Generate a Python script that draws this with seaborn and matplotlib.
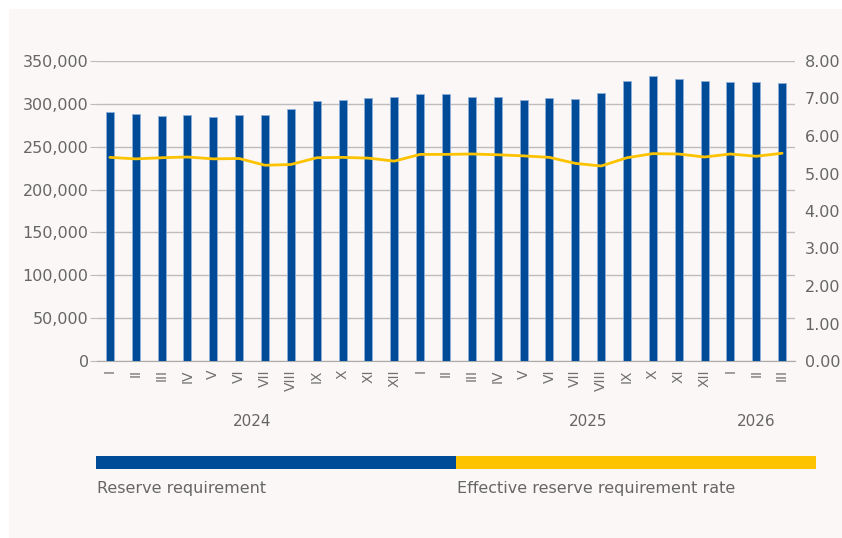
import numpy as np
import pandas as pd
import matplotlib
matplotlib.use('Agg')
import matplotlib.pyplot as plt
from matplotlib.patches import Rectangle
import seaborn as sns

# aylar (roma rakamlari) ve yillar
months = ["I", "II", "III", "IV", "V", "VI", "VII", "VIII", "IX", "X", "XI", "XII",
          "I", "II", "III", "IV", "V", "VI", "VII", "VIII", "IX", "X", "XI", "XII",
          "I", "II", "III"]
years = ["2024", "2025", "2026"]
year_pos = [5.5, 18.5, 25]

# zorunlu karsilik tutari
reserve = [290000, 288000, 285500, 286500, 284500, 287000, 286500, 294000, 303000, 305000, 307000, 308000,
           311000, 312000, 308000, 308500, 305000, 306500, 305500, 313000, 326500, 332500, 329500, 327000,
           325500, 325500, 324000]
# efektif zorunlu karsilik orani
rate = [5.43, 5.39, 5.42, 5.44, 5.39, 5.40, 5.22, 5.24, 5.42, 5.43, 5.41, 5.33,
        5.51, 5.51, 5.52, 5.50, 5.47, 5.43, 5.27, 5.20, 5.42, 5.53, 5.52, 5.44,
        5.52, 5.46, 5.54]

df = pd.DataFrame({"idx": np.arange(len(months)), "month": months,
                   "reserve": reserve, "rate": rate})

BLUE = "#004b98"
YELLOW = "#fdc300"
GREY = "#666666"
BG = "#faf7f6"

sns.set_style("white")
plt.rcParams['font.family'] = ['DejaVu Sans']

fig = plt.figure(figsize=(8.42, 5.38), dpi=100)
fig.patch.set_facecolor("white")
fig.add_artist(Rectangle((9 / 842, 0), 1, 529 / 538, transform=fig.transFigure,
                         facecolor=BG, edgecolor="none", zorder=-10))

ax = fig.add_axes([97 / 842, 1 - 361 / 538, 698 / 842, 300 / 538])
ax.set_facecolor("none")

sns.barplot(data=df, x="idx", y="reserve", color=BLUE, width=0.31, saturation=1,
            edgecolor="#8fb0d8", linewidth=0.6, ax=ax, zorder=3)
ax.set_ylim(0, 350000)
ax.set_yticks(np.arange(0, 350001, 50000))
ax.set_yticklabels([f"{v:,}" for v in range(0, 350001, 50000)])
ax.yaxis.grid(True, color="#bdbdbd", linewidth=1)
ax.set_axisbelow(True)
ax.set_xticks(range(len(months)))
ax.set_xticklabels(months, rotation=90, va="top")
ax.set_xlim(-0.5, len(months) - 0.5)
ax.set_xlabel("")
ax.set_ylabel("")
for s in ["top", "right", "left"]:
    ax.spines[s].set_visible(False)
ax.spines["bottom"].set_color("#aaaaaa")
ax.tick_params(axis="y", length=5, color="#bdbdbd", labelsize=11.5, labelcolor=GREY, pad=1)
ax.tick_params(axis="x", length=0, labelsize=10, labelcolor="#707070", pad=6)

for yr, p in zip(years, year_pos):
    ax.text(p, -0.2, yr, transform=ax.get_xaxis_transform(), ha="center", va="center",
            fontsize=11, color=GREY)

ax2 = ax.twinx()
sns.lineplot(data=df, x="idx", y="rate", color=YELLOW, linewidth=2, ax=ax2)
ax2.set_ylim(0, 8)
ax2.set_yticks(np.arange(0, 9, 1))
ax2.set_yticklabels([f"{v:.2f}" for v in range(0, 9)])
ax2.set_ylabel("")
ax2.set_xlabel("")
for s in ax2.spines.values():
    s.set_visible(False)
ax2.tick_params(axis="y", length=0, labelsize=11.5, labelcolor=GREY, pad=7)
ax.set_xlim(-0.5, len(months) - 0.5)

# alt kisimdaki aciklama cubugu
fig.add_artist(Rectangle((96 / 842, 1 - 469 / 538), 360 / 842, 13 / 538,
                         transform=fig.transFigure, facecolor=BLUE, edgecolor="none"))
fig.add_artist(Rectangle((456 / 842, 1 - 469 / 538), 360 / 842, 13 / 538,
                         transform=fig.transFigure, facecolor=YELLOW, edgecolor="none"))
fig.text(97 / 842, 1 - 488 / 538, "Reserve requirement", fontsize=11.5, color=GREY,
         va="center", ha="left")
fig.text(457 / 842, 1 - 488 / 538, "Effective reserve requirement rate", fontsize=11.5,
         color=GREY, va="center", ha="left")

fig.savefig("out.png", dpi=100, facecolor=fig.get_facecolor())
